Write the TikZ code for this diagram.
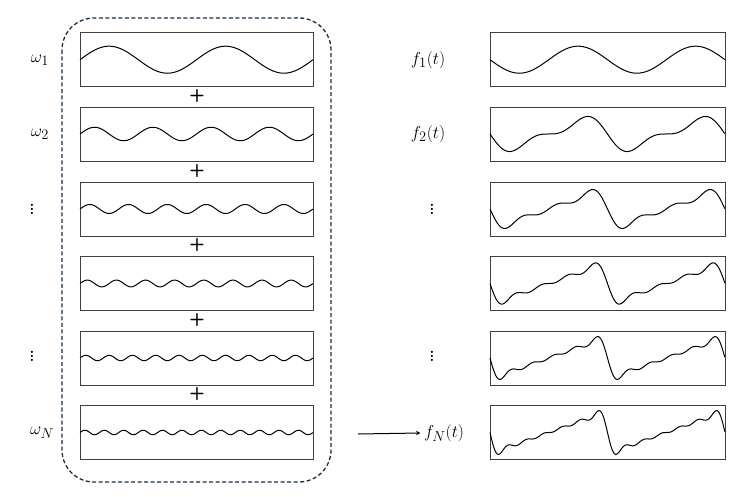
\documentclass[tikz,border=0pt]{standalone}
\begin{document}
\begin{tikzpicture}[x=1pt,y=-1pt,
  box/.style={draw=black!75,line width=0.9pt},
  wave/.style={line width=1pt,black},
  lab/.style={font=\fontsize{19}{22}\selectfont},
  vd/.style={font=\fontsize{27}{30}\selectfont},
  plus/.style={font=\fontsize{18}{22}\selectfont\sffamily\bfseries}]
\useasboundingbox (0,0) rectangle (753,497);
\draw[draw={rgb,255:red,25;green,45;blue,70},line width=1.3pt,dash pattern=on 4pt off 2.5pt,rounded corners=32pt] (62,18) rectangle (331,482);
\foreach \k/\t in {1/32.7,2/107,3/182,4/256.5,5/331,6/405.5}{
  \draw[box] (80,\t) rectangle (313,\t+54);
  \draw[box] (490,\t) rectangle (725,\t+54);
  \draw[wave] plot[domain=0:1,samples=240] ({80+233*\x},{\t+27-13.5/\k*sin(720*\k*\x)});
}
\foreach \y in {96.5,171,245.5,320,394.5}{\node[plus] (p\y) at (197,\y) {+};}
\draw[wave] plot[domain=0:1,samples=200] ({490+235*\x},{32.7+27+13.5*(sin(720*\x))});
\draw[wave] plot[domain=0:1,samples=200] ({490+235*\x},{107+27+13.5*(sin(720*\x)+sin(1440*\x)/2)});
\draw[wave] plot[domain=0:1,samples=240] ({490+235*\x},{182+27+13.5*(sin(720*\x)+sin(1440*\x)/2+sin(2160*\x)/3)});
\draw[wave] plot[domain=0:1,samples=240] ({490+235*\x},{256.5+27+13.5*(sin(720*\x)+sin(1440*\x)/2+sin(2160*\x)/3+sin(2880*\x)/4)});
\draw[wave] plot[domain=0:1,samples=300] ({490+235*\x},{331+27+13.5*(sin(720*\x)+sin(1440*\x)/2+sin(2160*\x)/3+sin(2880*\x)/4+sin(3600*\x)/5)});
\draw[wave] plot[domain=0:1,samples=300] ({490+235*\x},{405.5+27+13.5*(sin(720*\x)+sin(1440*\x)/2+sin(2160*\x)/3+sin(2880*\x)/4+sin(3600*\x)/5+sin(4320*\x)/6)});
\node[lab] (w1) at (40,60) {$\omega_1$};
\node[lab] (w2) at (40,134) {$\omega_2$};
\node[vd] (d1) at (32,206) {$\vdots$};
\node[vd] (d2) at (32,353) {$\vdots$};
\node[lab] (wn) at (42,433) {$\omega_N$};
\node[lab] (f1) at (428,60) {$f_1(t)$};
\node[lab] (f2) at (428,134) {$f_2(t)$};
\node[vd] (d3) at (432,206) {$\vdots$};
\node[vd] (d4) at (432,353) {$\vdots$};
\node[lab] (fn) at (444,433) {$f_N(t)$};
\coordinate (s) at (358,434);
\draw[-stealth,line width=1pt] (s) -- (fn.west);
\end{tikzpicture}
\end{document}
